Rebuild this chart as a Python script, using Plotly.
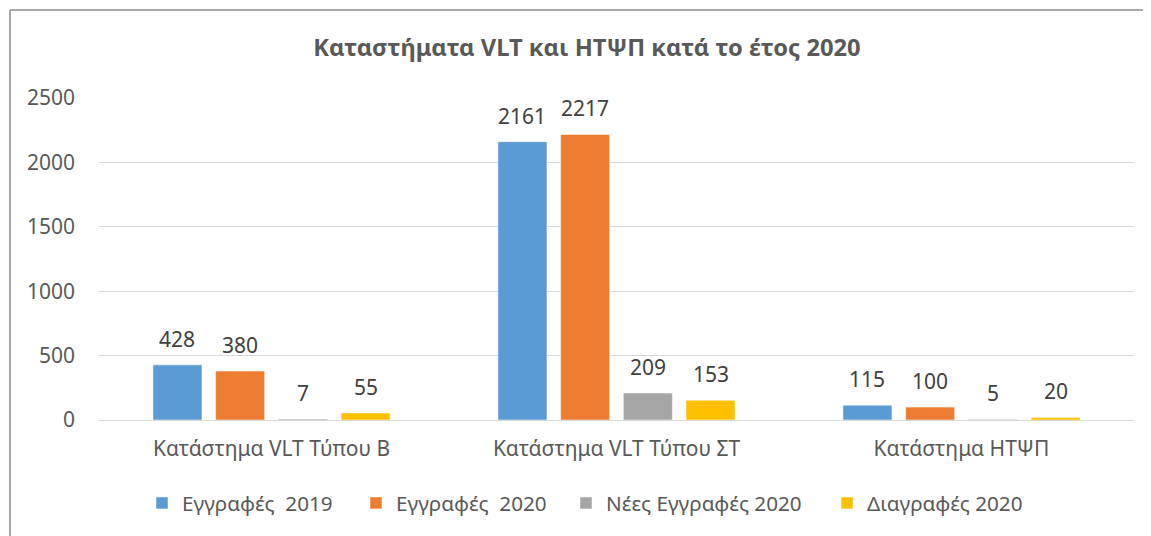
import plotly.graph_objects as go

categories = ["Κατάστημα VLT Τύπου Β", "Κατάστημα VLT Τύπου ΣΤ", "Κατάστημα ΗΤΨΠ"]
series_names = ["Εγγραφές  2019", "Εγγραφές  2020", "Νέες Εγγραφές 2020", "Διαγραφές 2020"]
reg_2019 = [428, 2161, 115]
reg_2020 = [380, 2217, 100]
new_2020 = [7, 209, 5]
del_2020 = [55, 153, 20]
y_ticks = [0, 500, 1000, 1500, 2000, 2500]

colors = ["#5B9BD5", "#ED7D31", "#A5A5A5", "#FFC000"]
values = [reg_2019, reg_2020, new_2020, del_2020]
FONT = "Noto Sans"
TXT = "#595959"

BARGAP = 0.273
BARGROUPGAP = 0.218

# body margin of the page is 8px -> figure offset
OFF = 8
W, H = 1151 - OFF, 536 - OFF
L, R, T, B = 99 - OFF, 17, 98 - OFF, H - (420 - OFF)
pw, ph = W - L - R, H - T - B

def px_x(x):
    return (x - OFF - L) / pw

def px_y(y):
    return 1 - (y - OFF - T) / ph

legend_ids = ["legend", "legend2", "legend3", "legend4"]
legend_left = [142, 356, 566, 827]

fig = go.Figure()
for name, vals, col, lg in zip(series_names, values, colors, legend_ids):
    fig.add_trace(go.Bar(
        x=categories, y=vals, name=name, legend=lg,
        marker=dict(color=col, line=dict(color="white", width=0.5)),
    ))

# data labels placed above each bar, using the category scale
n = len(values)
slot = (1 - BARGAP) / n
annotations = []
for i, vals in enumerate(values):
    for j, v in enumerate(vals):
        annotations.append(dict(
            x=j + (i - (n - 1) / 2) * slot, y=v, xref="x", yref="y",
            text=str(v), showarrow=False, yanchor="bottom", yshift=10,
            font=dict(family=FONT, size=21, color="#404040"),
        ))

legend_layouts = {}
for lg, left in zip(legend_ids, legend_left):
    legend_layouts[lg] = dict(
        orientation="h", x=px_x(left), xanchor="left",
        y=px_y(503), yanchor="middle", bgcolor="rgba(0,0,0,0)",
        font=dict(family=FONT, size=20.7, color=TXT), itemwidth=30,
    )

fig.update_layout(
    width=W, height=H,
    margin=dict(l=L, r=R, t=T, b=B),
    paper_bgcolor="white", plot_bgcolor="white",
    barmode="group", bargap=BARGAP, bargroupgap=BARGROUPGAP,
    font=dict(family=FONT, color=TXT),
    title=dict(text="<b>Καταστήματα VLT και ΗΤΨΠ κατά το έτος 2020</b>",
               x=px_x(587), xanchor="center", xref="paper",
               y=1 - (48 - OFF) / H, yanchor="middle",
               font=dict(family=FONT, size=23.7, color=TXT)),
    xaxis=dict(showgrid=False, showline=False, ticks="", ticklabelstandoff=14,
               tickfont=dict(family=FONT, size=21, color=TXT)),
    yaxis=dict(range=[0, 2500], tickvals=y_ticks, showgrid=True, gridcolor="#D9D9D9",
               gridwidth=1, zeroline=True, zerolinecolor="#D9D9D9", zerolinewidth=1,
               ticks="", ticklabelstandoff=23,
               tickfont=dict(family=FONT, size=21, color=TXT)),
    showlegend=True,
    annotations=annotations,
    shapes=[
        dict(type="line", xref="paper", yref="paper", x0=px_x(10), x1=px_x(1151),
             y0=px_y(10), y1=px_y(10), line=dict(color="#8C8C8C", width=1.5)),
        dict(type="line", xref="paper", yref="paper", x0=px_x(10), x1=px_x(10),
             y0=px_y(10), y1=px_y(536), line=dict(color="#8C8C8C", width=1.5)),
    ],
    **legend_layouts,
)

fig.write_html("out.html")
